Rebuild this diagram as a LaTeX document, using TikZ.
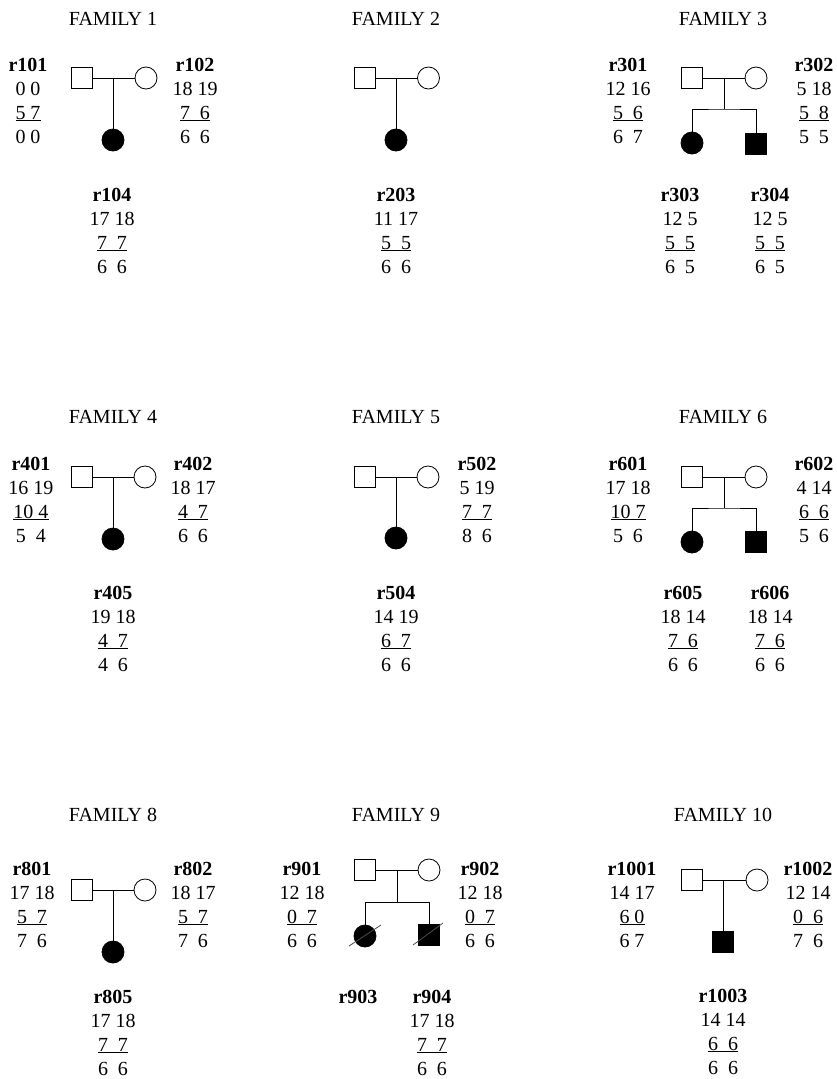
\documentclass[tikz,border=0pt]{standalone}
\usepackage{fontspec}
\setmainfont{Liberation Serif}
\newcommand{\gsp}{\ \ }
\newcommand{\gtb}[4]{\begin{tabular}[t]{@{}c@{}}\textbf{#1}\\#2\\\underline{#3}\\#4\end{tabular}}
\begin{document}
\begin{tikzpicture}[x=1pt,y=-1pt,
 every node/.style={font=\fontsize{20}{24}\selectfont},
 male/.style={draw,rectangle,minimum size=21pt,inner sep=0pt,line width=0.8pt},
 female/.style={draw,circle,minimum size=22pt,inner sep=0pt,line width=0.8pt},
 aff/.style={fill=black},
 ttl/.style={anchor=base,inner sep=0pt},
 geno/.style={anchor=base,inner sep=0pt},
 link/.style={line width=0.8pt},
 dead/.style={line width=0.8pt,black!70}]
\useasboundingbox (0,0) rectangle (836,1079);

% ---------- FAMILY 1 ----------
\node[ttl] (t1) at (113,25) {FAMILY 1};
\node[male] (f1m) at (81.5,78) {};
\node[female] (f1f) at (146,78) {};
\node[female,aff] (f1c) at (113,140) {};
\coordinate (f1j) at (113,78);
\draw[link] (f1m) -- (f1f);
\draw[link] (f1j) -- (f1c);
\node[geno] (r101) at (28,71) {\gtb{r101}{0 0}{5 7}{0 0}};
\node[geno] (r102) at (195,71) {\gtb{r102}{18 19}{7\gsp6}{6\gsp6}};
\node[geno] (r104) at (112,201) {\gtb{r104}{17 18}{7\gsp7}{6\gsp6}};

% ---------- FAMILY 2 ----------
\node[ttl] (t2) at (396,25) {FAMILY 2};
\node[male] (f2m) at (365,78) {};
\node[female] (f2f) at (428.5,78) {};
\node[female,aff] (f2c) at (396,140) {};
\coordinate (f2j) at (396,78);
\draw[link] (f2m) -- (f2f);
\draw[link] (f2j) -- (f2c);
\node[geno] (r203) at (396,201) {\gtb{r203}{11 17}{5\gsp5}{6\gsp6}};

% ---------- FAMILY 3 ----------
\node[ttl] (t3) at (723,25) {FAMILY 3};
\node[male] (f3m) at (692,78) {};
\node[female] (f3f) at (756,78) {};
\node[female,aff] (f3c1) at (692,143) {};
\node[male,aff] (f3c2) at (756,144) {};
\coordinate (f3j) at (724,78);
\coordinate (f3s) at (724,109);
\draw[link] (f3m) -- (f3f);
\draw[link] (f3j) -- (f3s);
\draw[link] (f3c1.north) |- (f3s) -| (f3c2.north);
\node[geno] (r301) at (628,71) {\gtb{r301}{12 16}{5\gsp6}{6\gsp7}};
\node[geno] (r302) at (814,71) {\gtb{r302}{5 18}{5\gsp8}{5\gsp5}};
\node[geno] (r303) at (680,201) {\gtb{r303}{12 5}{5\gsp5}{6\gsp5}};
\node[geno] (r304) at (770,201) {\gtb{r304}{12 5}{5\gsp5}{6\gsp5}};

% ---------- FAMILY 4 ----------
\node[ttl] (t4) at (113,423) {FAMILY 4};
\node[male] (f4m) at (82,477) {};
\node[female] (f4f) at (145,477) {};
\node[female,aff] (f4c) at (113,539) {};
\coordinate (f4j) at (113,477);
\draw[link] (f4m) -- (f4f);
\draw[link] (f4j) -- (f4c);
\node[geno] (r401) at (31,470) {\gtb{r401}{16 19}{10 4}{5\gsp4}};
\node[geno] (r402) at (193,470) {\gtb{r402}{18 17}{4\gsp7}{6\gsp6}};
\node[geno] (r405) at (113,599) {\gtb{r405}{19 18}{4\gsp7}{4\gsp6}};

% ---------- FAMILY 5 ----------
\node[ttl] (t5) at (396,423) {FAMILY 5};
\node[male] (f5m) at (365,477) {};
\node[female] (f5f) at (428,477) {};
\node[female,aff] (f5c) at (396,538) {};
\coordinate (f5j) at (396,477);
\draw[link] (f5m) -- (f5f);
\draw[link] (f5j) -- (f5c);
\node[geno] (r502) at (477,470) {\gtb{r502}{5 19}{7\gsp7}{8\gsp6}};
\node[geno] (r504) at (396,599) {\gtb{r504}{14 19}{6\gsp7}{6\gsp6}};

% ---------- FAMILY 6 ----------
\node[ttl] (t6) at (723,423) {FAMILY 6};
\node[male] (f6m) at (692,477) {};
\node[female] (f6f) at (756,477) {};
\node[female,aff] (f6c1) at (692,542) {};
\node[male,aff] (f6c2) at (756,542) {};
\coordinate (f6j) at (724,477);
\coordinate (f6s) at (724,508);
\draw[link] (f6m) -- (f6f);
\draw[link] (f6j) -- (f6s);
\draw[link] (f6c1.north) |- (f6s) -| (f6c2.north);
\node[geno] (r601) at (628,470) {\gtb{r601}{17 18}{10 7}{5\gsp6}};
\node[geno] (r602) at (814,470) {\gtb{r602}{4 14}{6\gsp6}{5\gsp6}};
\node[geno] (r605) at (683,599) {\gtb{r605}{18 14}{7\gsp6}{6\gsp6}};
\node[geno] (r606) at (770,599) {\gtb{r606}{18 14}{7\gsp6}{6\gsp6}};

% ---------- FAMILY 8 ----------
\node[ttl] (t8) at (113,821) {FAMILY 8};
\node[male] (f8m) at (82,890) {};
\node[female] (f8f) at (145,890) {};
\node[female,aff] (f8c) at (113,952) {};
\coordinate (f8j) at (113,890);
\draw[link] (f8m) -- (f8f);
\draw[link] (f8j) -- (f8c);
\node[geno] (r801) at (32,875) {\gtb{r801}{17 18}{5\gsp7}{7\gsp6}};
\node[geno] (r802) at (193,875) {\gtb{r802}{18 17}{5\gsp7}{7\gsp6}};
\node[geno] (r805) at (113,1003) {\gtb{r805}{17 18}{7\gsp7}{6\gsp6}};

% ---------- FAMILY 9 ----------
\node[ttl] (t9) at (396,821) {FAMILY 9};
\node[male] (f9m) at (365,870) {};
\node[female] (f9f) at (429,870) {};
\node[female,aff] (f9c1) at (365,936) {};
\node[male,aff] (f9c2) at (429,935) {};
\coordinate (f9j) at (397,870);
\coordinate (f9s) at (397,902);
\draw[link] (f9m) -- (f9f);
\draw[link] (f9j) -- (f9s);
\draw[link] (f9c1.north) |- (f9s) -| (f9c2.north);
\draw[dead] (f9c1) +(-16,10) -- +(16,-11);
\draw[dead] (f9c2) +(-16,10) -- +(14,-12);
\node[geno] (r901) at (302,875) {\gtb{r901}{12 18}{0\gsp7}{6\gsp6}};
\node[geno] (r902) at (480,875) {\gtb{r902}{12 18}{0\gsp7}{6\gsp6}};
\node[geno] (r903) at (358,1003) {\textbf{r903}};
\node[geno] (r904) at (432,1003) {\gtb{r904}{17 18}{7\gsp7}{6\gsp6}};

% ---------- FAMILY 10 ----------
\node[ttl] (t10) at (723,821) {FAMILY 10};
\node[male] (f10m) at (692,880) {};
\node[female] (f10f) at (757,880) {};
\node[male,aff] (f10c) at (723,942) {};
\coordinate (f10j) at (723,880);
\draw[link] (f10m) -- (f10f);
\draw[link] (f10j) -- (f10c);
\node[geno] (r1001) at (632,875) {\gtb{r1001}{14 17}{6 0}{6 7}};
\node[geno] (r1002) at (808,875) {\gtb{r1002}{12 14}{0\gsp6}{7\gsp6}};
\node[geno] (r1003) at (723,1002) {\gtb{r1003}{14 14}{6\gsp6}{6\gsp6}};
\end{tikzpicture}
\end{document}
